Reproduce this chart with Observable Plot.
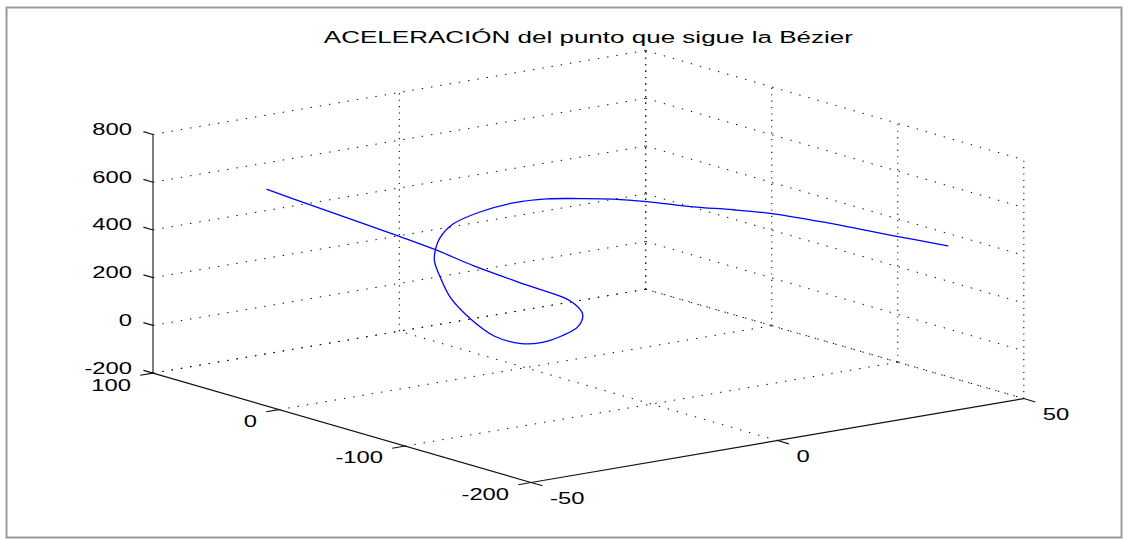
<!DOCTYPE html>
<html>
<head>
<meta charset="utf-8">
<script src="https://cdn.jsdelivr.net/npm/d3@7"></script>
<script src="https://cdn.jsdelivr.net/npm/@observablehq/plot@0.6"></script>
<style>
  html, body { margin: 0; padding: 0; background: #ffffff; }
</style>
</head>
<body>
<div id="chart"></div>
<script>
// ---- Chart content ----
const titleText = "ACELERACIÓN del punto que sigue la Bézier";
const xTicks = [-50, 0, 50];
const yTicks = [-200, -100, 0, 100];
const zTicks = [-200, 0, 200, 400, 600, 800];
const xLim = [-50, 50];
const yLim = [-200, 100];
const zLim = [-200, 800];

// 3-D acceleration curve (x, y, z)
const curveX = [-30.7, -24.5, -8.3, -2.7, 2.8, 10.8, 16.8, 16.6, 16.1, 13.1, 7.5, 1.2, -5.0, -12.7, -19.6, -25.8, -30.0, -33.4, -35.4, -36.6, -36.1, -32.8, -28.2, -23.5, -18.9, -14.4, -9.7, -2.5, 3.5, 9.5, 18.3, 29.6, 38.4];
const curveY = [85, 76.6, 68.1, 59.8, 51.3, 42.7, 34.3, 25.9, 17.5, 9.1, 0.7, -7.7, -16.2, -24.8, -33.2, -41.6, -50, -58.4, -66.8, -75.2, -83.7, -92.2, -100.7, -109.1, -117.5, -125.9, -134.4, -142.8, -151.2, -159.8, -168.2, -176.6, -185];
const curveZ = [525, 454, 276, 210, 137, 46, -20, -31, -59, -86, -95, -88, -57, 15, 123, 246, 357, 454, 515, 586, 656, 708, 743, 756, 754, 749, 735, 700, 680, 655, 599, 518, 458];

// ---- MATLAB default 3-D view (az = -37.5, el = 30), orthographic ----
const az = -37.5 * Math.PI / 180, el = 30 * Math.PI / 180;
function project(x, y, z) {
  const u = (x - xLim[0]) / (xLim[1] - xLim[0]);
  const v = (y - yLim[0]) / (yLim[1] - yLim[0]);
  const w = (z - zLim[0]) / (zLim[1] - zLim[0]);
  return {
    sx: Math.cos(az) * u + Math.sin(az) * v,
    sy: -Math.sin(az) * Math.sin(el) * u + Math.cos(az) * Math.sin(el) * v + Math.cos(el) * w
  };
}
const sxMin = project(xLim[0], yLim[1], zLim[0]).sx;
const sxMax = project(xLim[1], yLim[0], zLim[0]).sx;
const syMax = project(xLim[1], yLim[1], zLim[1]).sy;

function seg(a, b) {
  const p = project(...a), q = project(...b);
  return {x1: p.sx, y1: p.sy, x2: q.sx, y2: q.sy};
}

// grid lines (dotted) on the three back planes
const gridFlat = [];   // non-vertical
const gridVert = [];   // vertical
for (const z of zTicks) {
  gridFlat.push(seg([xLim[0], yLim[1], z], [xLim[1], yLim[1], z]));
  gridFlat.push(seg([xLim[1], yLim[1], z], [xLim[1], yLim[0], z]));
}
for (const x of xTicks) {
  if (x !== xLim[0]) {
    gridVert.push(seg([x, yLim[1], zLim[0]], [x, yLim[1], zLim[1]]));
    gridFlat.push(seg([x, yLim[0], zLim[0]], [x, yLim[1], zLim[0]]));
  }
}
for (const y of yTicks) {
  gridVert.push(seg([xLim[1], y, zLim[0]], [xLim[1], y, zLim[1]]));
  if (y !== yLim[0]) gridFlat.push(seg([xLim[0], y, zLim[0]], [xLim[1], y, zLim[0]]));
}

// solid axes
const axes = [
  seg([xLim[0], yLim[1], zLim[0]], [xLim[0], yLim[1], zLim[1]]), // z axis
  seg([xLim[0], yLim[0], zLim[0]], [xLim[0], yLim[1], zLim[0]]), // y axis
  seg([xLim[0], yLim[0], zLim[0]], [xLim[1], yLim[0], zLim[0]])  // x axis
];
// tick marks (pointing outwards)
const ticks = [];
for (const z of zTicks) ticks.push(seg([xLim[0], yLim[1], z], [xLim[0], yLim[1] + 7.6, z]));
for (const y of yTicks) ticks.push(seg([xLim[0], y, zLim[0]], [xLim[0] - 2.6, y, zLim[0]]));
for (const x of xTicks) ticks.push(seg([x, yLim[0], zLim[0]], [x, yLim[0] - 9.1, zLim[0]]));

const zLab = zTicks.map(z => ({...project(xLim[0], yLim[1], z), t: String(z)}));
const yLab = yTicks.map(y => ({...project(xLim[0], y, zLim[0]), t: String(y)}));
const xLab = xTicks.map(x => ({...project(x, yLim[0], zLim[0]), t: String(x)}));
const curve = curveX.map((x, i) => project(x, curveY[i], curveZ[i]));

const font = "'Liberation Sans', Arial, Helvetica, sans-serif";

const chart = Plot.plot({
  width: 1127,
  height: 540,
  marginTop: 0, marginRight: 0, marginBottom: 0, marginLeft: 0,
  style: {background: "#ffffff", fontFamily: font, color: "#000"},
  x: {type: "linear", domain: [sxMin, sxMax], range: [152.5, 1023.3], axis: null},
  y: {type: "linear", domain: [0, syMax], range: [482, 50], axis: null},
  marks: [
    Plot.frame({stroke: "#9a9a9a", strokeWidth: 2, fill: "none", insetLeft: 6, insetTop: 7, insetRight: 6, insetBottom: 3}),
    Plot.link(gridFlat, {x1: "x1", y1: "y1", x2: "x2", y2: "y2", stroke: "#000", strokeWidth: 1, strokeDasharray: "1.4 8", strokeLinecap: "butt"}),
    Plot.link(gridVert, {x1: "x1", y1: "y1", x2: "x2", y2: "y2", stroke: "#000", strokeWidth: 1.1, strokeDasharray: "1.1 5.3", strokeLinecap: "butt"}),
    Plot.link(axes, {x1: "x1", y1: "y1", x2: "x2", y2: "y2", stroke: "#111", strokeWidth: 1.1}),
    Plot.link(ticks, {x1: "x1", y1: "y1", x2: "x2", y2: "y2", stroke: "#111", strokeWidth: 1.1}),
    Plot.line(curve, {x: "sx", y: "sy", stroke: "#0000ff", strokeWidth: 1.3, curve: "catmull-rom"}),
    Plot.text(zLab, {x: "sx", y: "sy", text: "t", textAnchor: "end", dx: -21, dy: -5, fontSize: 17, fill: "#000"}),
    Plot.text(yLab, {x: "sx", y: "sy", text: "t", textAnchor: "end", dx: -22, dy: 12, fontSize: 17, fill: "#000"}),
    Plot.text(xLab, {x: "sx", y: "sy", text: "t", textAnchor: "start", dx: 19, dy: 16, fontSize: 17, fill: "#000"}),
    Plot.text([titleText], {x: () => (sxMin + sxMax) / 2, frameAnchor: "top", dy: 30, text: d => d, fontSize: 17, fill: "#000"})
  ]
});

// widen the glyphs horizontally, as in the (horizontally stretched) original
d3.select(chart).selectAll("text").each(function () {
  const el = this;
  const s = el.textContent === titleText ? 1.53 : 1.40;
  const t = el.getAttribute("transform") || "";
  const x = el.getAttribute("x");
  if (x !== null && !isNaN(+x)) el.setAttribute("x", (+x) / s);
  el.setAttribute("transform", (t + ` scale(${s},1)`).trim());
});

document.getElementById("chart").appendChild(chart);
</script>
</body>
</html>
